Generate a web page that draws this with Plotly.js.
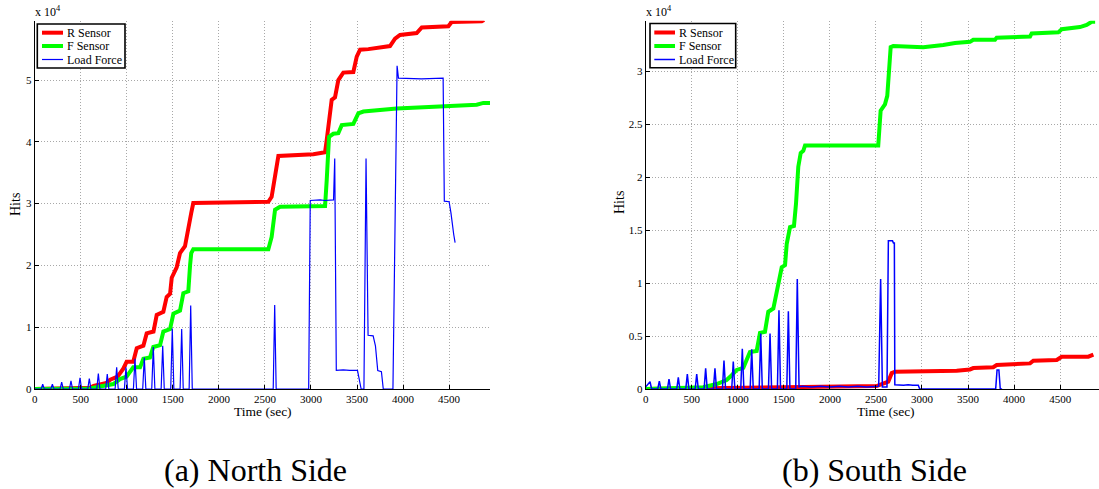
<!DOCTYPE html>
<html>
<head>
<meta charset="utf-8">
<script src="https://cdn.plot.ly/plotly-3.0.1.min.js"></script>
<style>
html,body{margin:0;padding:0;background:#fff;}
#chart{width:1099px;height:489px;}
</style>
</head>
<body>
<div id="chart"></div>
<script>
// ---- North Side (a) : time in seconds, hits in units of 10^4 ----
const northRTime = [0,300,500,600,640,700,780,820,854,900,962,998,1070,1108,1180,1216,1290,1325,1397,1433,1470,1488,1542,1578,1632,1668,1700,1722,2537,2573,2610,2646,3026,3153,3171,3225,3261,3297,3351,3460,3497,3533,3623,3858,3913,3967,4148,4203,4492,4528,4854,4880];
const northRHits = [0,0.005,0.01,0.02,0.05,0.07,0.10,0.15,0.17,0.20,0.33,0.44,0.44,0.66,0.70,0.90,0.93,1.20,1.25,1.49,1.54,1.80,1.97,2.20,2.31,2.63,2.85,3.01,3.03,3.11,3.49,3.77,3.80,3.83,4.03,4.68,4.72,5.00,5.12,5.13,5.38,5.49,5.50,5.55,5.67,5.73,5.76,5.85,5.87,5.94,5.95,5.97];

const northFTime = [0,400,600,709,800,854,926,998,1070,1144,1180,1252,1288,1361,1397,1470,1506,1578,1614,1668,1687,1700,1722,2537,2573,2610,2664,3153,3171,3196,3243,3297,3334,3460,3514,3569,3931,4293,4474,4800,4872,4944];
const northFHits = [0,0.005,0.01,0.04,0.07,0.08,0.16,0.20,0.35,0.35,0.49,0.51,0.68,0.71,0.93,0.97,1.22,1.27,1.55,1.58,2.00,2.20,2.26,2.26,2.46,2.90,2.95,2.96,3.38,4.08,4.13,4.14,4.27,4.29,4.46,4.49,4.54,4.57,4.58,4.60,4.63,4.63];

const northLTime = [0,70,87,104,175,192,209,276,293,310,377,394,411,475,492,509,576,593,610,674,691,708,771,788,805,873,890,907,974,991,1008,1072,1089,1106,1173,1190,1207,1271,1288,1305,1373,1390,1407,1477,1494,1511,1579,1596,1613,1677,1694,1711,2590,2606,2622,2975,2992,3100,3150,3245,3258,3275,3350,3420,3505,3545,3575,3598,3620,3675,3700,3725,3765,3785,3890,3935,3950,4200,4435,4448,4500,4520,4550,4565];
const northLHits = [0,0,0.08,0,0,0.08,0,0,0.11,0,0,0.13,0,0,0.18,0,0,0.17,0,0,0.25,0,0,0.24,0,0,0.35,0,0,0.35,0,0,0.49,0,0,0.51,0,0,0.68,0,0,0.70,0,0,0.98,0,0,0.97,0,0,1.35,0,0,1.36,0,0,3.05,3.06,3.05,3.06,3.73,0.30,0.31,0.30,0.30,0,0,3.73,0.87,0.86,0.70,0.30,0.28,0,0,5.23,5.03,5.02,5.03,3.04,3.03,2.85,2.50,2.37];

// ---- South Side (b) ----
const southRTime = [0,700,1000,1711,2508,2580,2634,2671,2707,3377,3521,3557,3774,3811,3955,4173,4209,4463,4517,4806,4861];
const southRHits = [0,0.005,0.01,0.02,0.028,0.047,0.07,0.15,0.163,0.173,0.185,0.198,0.205,0.226,0.236,0.242,0.267,0.274,0.305,0.305,0.324];

const southFTime = [0,400,625,771,879,934,988,1060,1097,1132,1205,1241,1295,1331,1386,1422,1440,1477,1513,1531,1567,1610,1632,1657,1683,1711,1730,2525,2551,2598,2623,2645,2660,2688,3014,3231,3358,3521,3557,3793,3811,4173,4191,4480,4517,4715,4788,4843,4880];
const southFHits = [0,0.005,0.016,0.047,0.085,0.13,0.18,0.20,0.29,0.35,0.36,0.53,0.54,0.73,0.76,0.90,1.00,1.15,1.17,1.37,1.53,1.54,1.75,2.10,2.23,2.25,2.30,2.30,2.63,2.69,2.77,3.04,3.23,3.24,3.23,3.25,3.27,3.28,3.30,3.30,3.32,3.33,3.36,3.37,3.40,3.42,3.44,3.47,3.47];

const southLTime = [0,47,64,131,148,165,236,253,270,337,354,371,435,452,469,537,554,571,634,651,668,735,752,769,833,850,867,934,951,968,1032,1049,1066,1134,1151,1168,1232,1249,1266,1333,1350,1367,1430,1447,1464,1532,1549,1566,1629,1646,1665,1700,1800,1900,2000,2100,2200,2300,2400,2530,2551,2570,2620,2635,2680,2690,2700,2705,2800,2850,2900,2960,2975,3800,3815,3835,3850,3870];
const southLHits = [0.02,0.069,0,0,0.075,0,0,0.094,0,0,0.11,0,0,0.14,0,0,0.14,0,0,0.195,0,0,0.195,0,0,0.27,0,0,0.26,0,0,0.38,0,0,0.375,0,0,0.525,0,0,0.525,0,0,0.745,0,0,0.735,0,0,1.04,0.02,0.025,0.02,0.025,0.02,0.025,0.02,0.025,0.02,0.025,1.04,0.02,0.02,1.40,1.40,1.38,1.38,0.04,0.035,0.04,0.035,0.035,0,0,0.18,0.18,0,0];

const seriesNames = ['R Sensor','F Sensor','Load Force'];
const xTickVals = [0,500,1000,1500,2000,2500,3000,3500,4000,4500];

const FONT = 'Liberation Serif';
const RED = '#ff0000', GREEN = '#00ff00', BLUE = '#0000ff';
const COLORS = [RED, GREEN, BLUE];

const traces = [
  {x:northRTime, y:northRHits, name:seriesNames[0], mode:'lines', line:{color:RED, width:4}, xaxis:'x', yaxis:'y'},
  {x:northFTime, y:northFHits, name:seriesNames[1], mode:'lines', line:{color:GREEN, width:4}, xaxis:'x', yaxis:'y'},
  {x:northLTime, y:northLHits, name:seriesNames[2], mode:'lines', line:{color:BLUE, width:1.2}, xaxis:'x', yaxis:'y'},
  {x:southRTime, y:southRHits, name:seriesNames[0], mode:'lines', line:{color:RED, width:4}, xaxis:'x2', yaxis:'y2'},
  {x:southFTime, y:southFHits, name:seriesNames[1], mode:'lines', line:{color:GREEN, width:4}, xaxis:'x2', yaxis:'y2'},
  {x:southLTime, y:southLHits, name:seriesNames[2], mode:'lines', line:{color:BLUE, width:1.5}, xaxis:'x2', yaxis:'y2'}
];

const W = 1099, H = 489;
const px = v => v / W;
const py = v => (H - v) / H;

function xAxis(dom, rng, anchor){
  return {domain:dom, range:rng, anchor:anchor, tickvals:xTickVals, ticks:'inside', ticklen:4, tickcolor:'#000',
    showline:true, linecolor:'#000', linewidth:1, showgrid:true, gridcolor:'#a8a8a8', griddash:'1px,2px', gridwidth:1,
    zeroline:false, layer:'above traces', tickfont:{family:FONT, size:11, color:'#000'}};
}
function yAxis(rng, dt, anchor){
  return {domain:[py(389), py(20.7)], range:rng, anchor:anchor, dtick:dt, tick0:0, ticks:'inside', ticklen:4, tickcolor:'#000',
    showline:true, linecolor:'#000', linewidth:1, showgrid:true, gridcolor:'#a8a8a8', griddash:'1px,2px', gridwidth:1,
    zeroline:false, layer:'above traces', tickfont:{family:FONT, size:11, color:'#000'}};
}

const ann = (text, x, y, opts) => Object.assign({text:text, x:px(x), y:py(y), xref:'paper', yref:'paper',
  showarrow:false, font:{family:FONT, size:12, color:'#000'}}, opts||{});

// legend boxes (MATLAB style, compact rows)
const shapes = [];
const legendAnns = [];
function addLegend(x0, x1, y0, y1, lx0, lx1, tx, rows, widths){
  shapes.push({type:'rect', xref:'paper', yref:'paper', x0:px(x0), x1:px(x1), y0:py(y1), y1:py(y0),
    fillcolor:'#fff', line:{color:'#000', width:1.6}, layer:'above'});
  rows.forEach((ry, i) => {
    shapes.push({type:'line', xref:'paper', yref:'paper', x0:px(lx0), x1:px(lx1), y0:py(ry), y1:py(ry),
      line:{color:COLORS[i], width:widths[i]}, layer:'above'});
    legendAnns.push(ann(seriesNames[i], tx, ry, {xanchor:'left', yanchor:'middle'}));
  });
}
addLegend(37.3, 125, 24, 68, 42, 63, 64.5, [32.7, 46, 59.5], [4, 4, 1.2]);
addLegend(650, 735.7, 23.5, 67.7, 654.3, 675, 676.5, [32.5, 46, 59.5], [4, 4, 1.5]);

const layout = {
  width:W, height:H, margin:{l:0,r:0,t:0,b:0}, paper_bgcolor:'#fff', plot_bgcolor:'#fff',
  showlegend:false,
  font:{family:FONT, size:11, color:'#000'},
  xaxis: xAxis([px(34.7), px(490)], [0, 4944], 'y'),
  yaxis: yAxis([0, 5.96], 1, 'x'),
  xaxis2: xAxis([px(645.7), px(1099)], [0, 4922], 'y2'),
  yaxis2: yAxis([0, 3.48], 0.5, 'x2'),
  shapes: shapes,
  annotations: [
    ann('x 10<sup>4</sup>', 33, 12, {xanchor:'left', yanchor:'middle'}),
    ann('x 10<sup>4</sup>', 644, 12, {xanchor:'left', yanchor:'middle'}),
    ann('Hits', 15, 205, {textangle:-90, xanchor:'center', yanchor:'middle', font:{family:FONT, size:14, color:'#000'}}),
    ann('Hits', 619, 203, {textangle:-90, xanchor:'center', yanchor:'middle', font:{family:FONT, size:14, color:'#000'}}),
    ann('Time (sec)', 262.5, 411, {xanchor:'center', yanchor:'middle', font:{family:FONT, size:13.5, color:'#000'}}),
    ann('Time (sec)', 886, 411, {xanchor:'center', yanchor:'middle', font:{family:FONT, size:13.5, color:'#000'}}),
    ann('(a) North Side', 255, 470, {xanchor:'center', yanchor:'middle', font:{family:FONT, size:32, color:'#000'}}),
    ann('(b) South Side', 874, 470, {xanchor:'center', yanchor:'middle', font:{family:FONT, size:32, color:'#000'}})
  ].concat(legendAnns)
};

Plotly.newPlot('chart', traces, layout, {displayModeBar:false});
</script>
</body>
</html>
